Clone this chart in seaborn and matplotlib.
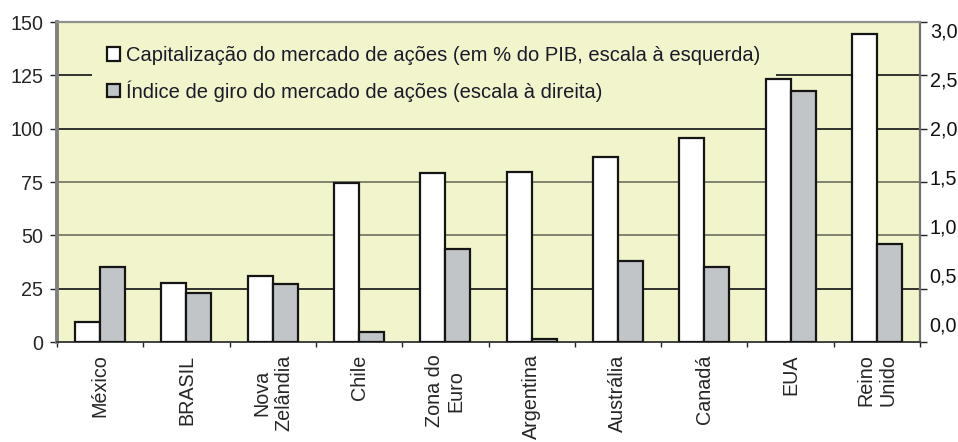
import numpy as np
import pandas as pd
import matplotlib
matplotlib.use("Agg")
import matplotlib.pyplot as plt
from matplotlib.patches import Patch
import seaborn as sns

# data
paises = ["México", "BRASIL", "Nova\nZelândia", "Chile", "Zona do\nEuro",
          "Argentina", "Austrália", "Canadá", "EUA", "Reino\nUnido"]
capitalizacao = [9.5, 27.8, 31.1, 74.7, 79.4, 79.7, 86.9, 95.5, 123.1, 144.4]
giro = [0.70, 0.46, 0.54, 0.09, 0.875, 0.03, 0.757, 0.70, 2.356, 0.916]

serie_cap = "Capitalização do mercado de ações (em % do PIB, escala à esquerda)"
serie_giro = "Índice de giro do mercado de ações (escala à direita)"

left_ticks = [0, 25, 50, 75, 100, 125, 150]
right_ticks = [0.0, 0.5, 1.0, 1.5, 2.0, 2.5, 3.0]

bg = "#F2F4CC"
cinza = "#C0C5C8"
paleta = {serie_cap: "white", serie_giro: cinza}

sns.set_style("ticks")
plt.rcParams["font.family"] = ["Liberation Sans", "DejaVu Sans"]
fs = 14.2

df_cap = pd.DataFrame({"pais": paises, "valor": capitalizacao, "serie": serie_cap})
df_giro = pd.DataFrame({"pais": paises, "valor": giro, "serie": serie_giro})
ordem = [serie_cap, serie_giro]

fig = plt.figure(figsize=(9.58, 4.42), dpi=100)
ax = fig.add_axes([57 / 958, 1 - 342 / 442, (920 - 57) / 958, 320 / 442])
ax.set_facecolor(bg)

# each series on its own scale, dodge forced so they sit side by side
sns.barplot(data=df_cap, x="pais", y="valor", hue="serie", hue_order=ordem,
            palette=paleta, width=0.58, dodge=True, edgecolor="#151515",
            linewidth=1.6, legend=False, ax=ax, zorder=3)

ax2 = ax.twinx()
sns.barplot(data=df_giro, x="pais", y="valor", hue="serie", hue_order=ordem,
            palette=paleta, width=0.58, dodge=True, edgecolor="#151515",
            linewidth=1.6, legend=False, ax=ax2, zorder=3)
ax2.set_ylim(0, 3.0)
ax2.set_yticks([])
ax2.set_ylabel("")

# right labels sit slightly off the tick marks, as in the reference
ax3 = ax.twinx()
ax3.set_ylim(-0.184, 3.082)
ax3.set_yticks(right_ticks)
ax3.set_yticklabels([f"{v:.1f}".replace(".", ",") for v in right_ticks])
ax3.tick_params(axis="y", length=0, pad=7, colors="#111111", labelsize=fs)

for a in (ax2, ax3):
    for s in a.spines.values():
        s.set_visible(False)

ax.set_ylim(0, 150)
ax.set_yticks(left_ticks)
ax.set_yticklabels([str(v) for v in left_ticks])
ax.tick_params(axis="y", right=True, labelright=False, direction="out",
               length=5, width=1.0, color="#222222", pad=5, labelsize=fs)
ax.set_xlim(-0.5, len(paises) - 0.5)
ax.set_xticks(range(len(paises)))
ax.set_xticklabels(paises, rotation=90, ha="center", va="top",
                   multialignment="center")
ax.tick_params(axis="x", which="major", length=0, pad=9, labelsize=fs)
ax.set_xticks(np.arange(-0.5, len(paises), 1), minor=True)
ax.tick_params(axis="x", which="minor", length=3.6, width=1.0, color="#222222")
ax.set_xlabel("")
ax.set_ylabel("")

ax.set_axisbelow(True)
ax.grid(axis="y", linewidth=1.2)
cores_grade = ["none", "#111111", "#707060", "#707060", "#111111", "#111111", "none"]
for linha, c in zip(ax.get_ygridlines(), cores_grade):
    linha.set_color(c)

ax.spines["left"].set_color("#808080")
ax.spines["left"].set_linewidth(2.8)
ax.spines["top"].set_color("#909090")
ax.spines["top"].set_linewidth(1.6)
ax.spines["right"].set_color("#707070")
ax.spines["right"].set_linewidth(1.6)
ax.spines["bottom"].set_color("#404040")
ax.spines["bottom"].set_linewidth(1.4)

handles = [Patch(facecolor="white", edgecolor="#151515", linewidth=1.6, label=serie_cap),
           Patch(facecolor=cinza, edgecolor="#151515", linewidth=1.6, label=serie_giro)]
leg = ax.legend(handles=handles, loc="upper left",
                bbox_to_anchor=(92 / 958, 1 - 31 / 442), bbox_transform=fig.transFigure,
                fontsize=14.5, frameon=True, facecolor=bg, edgecolor="none",
                framealpha=1, fancybox=False, borderpad=0.75, labelspacing=0.75,
                handlelength=0.65, handleheight=0.65, handletextpad=0.3,
                borderaxespad=0)
leg.set_zorder(2.5)  # above the grid, below the bars
for t in leg.get_texts():
    t.set_color("#1a1a28")

fig.savefig("out.png", dpi=100)
